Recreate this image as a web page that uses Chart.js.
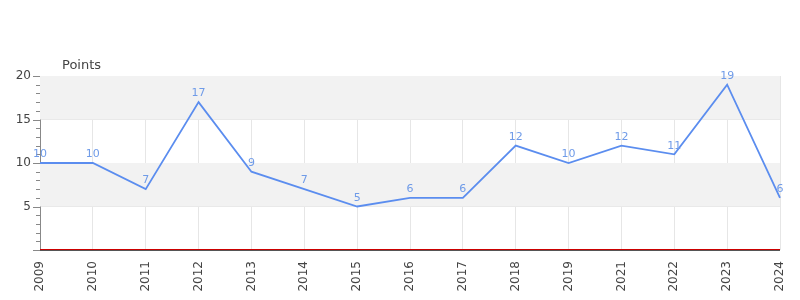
<!DOCTYPE html>
<html><head><meta charset="utf-8">
<script src="https://cdn.jsdelivr.net/npm/chart.js@4/dist/chart.umd.min.js"></script>
<style>html,body{margin:0;padding:0;background:#fff}#wrap{width:800px;height:300px}</style>
</head><body><div id="wrap"><canvas id="c" width="800" height="300"></canvas></div>
<script>
const years = ['2009','2010','2011','2012','2013','2014','2015','2016','2017','2018','2019','2021','2022','2023','2024'];
const points = [10,10,7,17,9,7,5,6,6,12,10,12,11,19,6];
const yTickLabels = [5,10,15,20];
const bands = [[5,10],[15,20]];
const yTitle = 'Points';

const FONT = '"DejaVu Sans", sans-serif';

const deco = {
  id: 'deco',
  beforeDatasetsDraw(chart) {
    const {ctx, chartArea: a, scales: {y}} = chart;
    ctx.save();
    ctx.fillStyle = '#f2f2f2';
    bands.forEach(([lo, hi]) => {
      const t = y.getPixelForValue(hi), b = y.getPixelForValue(lo);
      ctx.fillRect(a.left, t, a.right - a.left, b - t);
    });
    ctx.restore();
  },
  afterDraw(chart) {
    const {ctx, chartArea: a, scales: {x, y}} = chart;
    ctx.save();
    ctx.strokeStyle = '#888';
    ctx.lineWidth = 1;
    for (let v = 0; v <= 20; v++) {
      const py = Math.round(y.getPixelForValue(v)) + 0.5;
      const len = v % 5 === 0 ? 7 : 4;
      ctx.beginPath(); ctx.moveTo(a.left - len, py); ctx.lineTo(a.left, py); ctx.stroke();
    }
    const by = Math.round(y.getPixelForValue(0));
    ctx.strokeStyle = '#555';
    ctx.beginPath(); ctx.moveTo(a.left, by + 0.5); ctx.lineTo(a.right, by + 0.5); ctx.stroke();
    ctx.strokeStyle = '#cc0000';
    ctx.beginPath(); ctx.moveTo(a.left, by - 0.5); ctx.lineTo(a.right, by - 0.5); ctx.stroke();
    ctx.fillStyle = '#6f9be8';
    ctx.font = '11px ' + FONT;
    ctx.textAlign = 'center';
    ctx.textBaseline = 'bottom';
    const meta = chart.getDatasetMeta(0);
    meta.data.forEach((pt, i) => {
      ctx.fillText(String(points[i]), pt.x, pt.y - 3);
    });
    ctx.fillStyle = '#444';
    ctx.font = '13px ' + FONT;
    ctx.textAlign = 'left';
    ctx.textBaseline = 'middle';
    ctx.fillText(yTitle, 62, 66);
    ctx.restore();
  }
};

new Chart(document.getElementById('c'), {
  type: 'line',
  data: {
    labels: years,
    datasets: [{
      data: points,
      borderColor: '#5b8def',
      borderWidth: 1.8,
      pointRadius: 0,
      tension: 0,
      fill: false
    }]
  },
  options: {
    responsive: false,
    animation: false,
    layout: {padding: {top: 76, right: 20, left: 0, bottom: 0}},
    plugins: {legend: {display: false}, tooltip: {enabled: false}},
    scales: {
      x: {
        offset: false,
        afterFit(s) { s.height = 50; s.paddingRight = 0; s.paddingLeft = 0; },
        grid: {color: '#e6e6e6', drawTicks: false},
        border: {display: false},
        ticks: {minRotation: 90, maxRotation: 90, padding: 11, color: '#444', font: {family: FONT, size: 12}, autoSkip: false}
      },
      y: {
        min: 0, max: 20,
        afterFit(s) { s.width = 40; },
        grid: {
          drawTicks: false,
          color: c => (yTickLabels.includes(c.tick.value) ? '#e0e0e0' : 'rgba(0,0,0,0)')
        },
        border: {color: '#888'},
        ticks: {
          stepSize: 1, padding: 9, color: '#444', font: {family: FONT, size: 12},
          autoSkip: false,
          callback: v => (yTickLabels.includes(v) ? String(v) : '')
        }
      }
    }
  },
  plugins: [deco]
});
</script>
</body></html>
